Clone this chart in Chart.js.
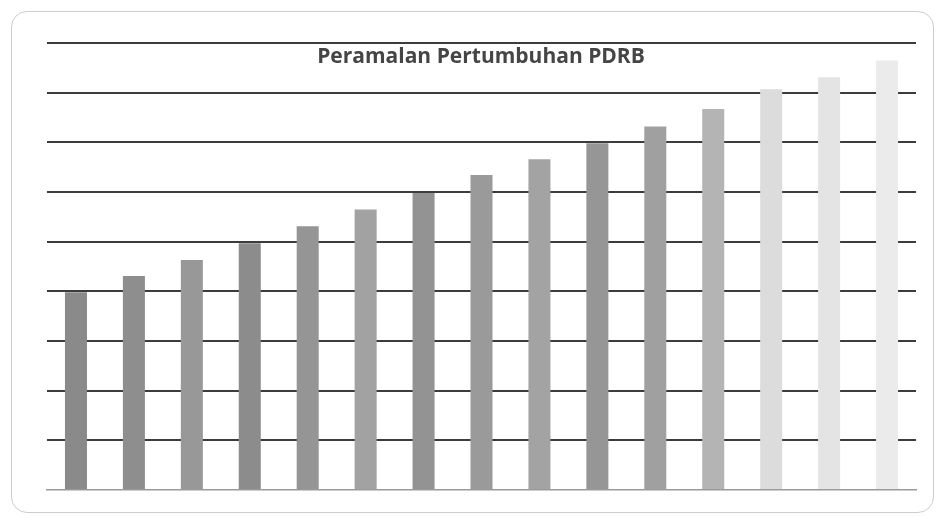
<!DOCTYPE html>
<html>
<head>
<meta charset="utf-8">
<script src="https://cdn.jsdelivr.net/npm/chart.js@4"></script>
<style>
  html, body { margin: 0; padding: 0; background: #ffffff; }
  .wrap { position: relative; width: 939px; height: 518px; }
  .frame {
    position: absolute; left: 11px; top: 11px; width: 923px; height: 502px;
    border: 1.5px solid #cdcdcd; border-radius: 16px; box-sizing: border-box;
  }
  canvas { position: absolute; left: 0; top: 0; }
</style>
</head>
<body>
<div class="wrap">
  <div class="frame"></div>
  <canvas id="pdrb-chart" width="939" height="518"></canvas>
</div>
<script>
const chartTitle = "Peramalan Pertumbuhan PDRB";
const periods = ["1", "2", "3", "4", "5", "6", "7", "8", "9", "10", "11", "12", "13", "14", "15"];
const pdrbValues = [3.98, 4.31, 4.63, 4.97, 5.31, 5.65, 5.98, 6.34, 6.66, 6.98, 7.32, 7.67, 8.07, 8.31, 8.65];
const barColors = [
  "#8a8a8a", "#8e8e8e", "#989898", "#8c8c8c", "#959595",
  "#a2a2a2", "#939393", "#9a9a9a", "#a3a3a3", "#969696",
  "#a0a0a0", "#b4b4b4", "#dcdcdc", "#e4e4e4", "#ebebeb",
];
const yMax = 9;

// title sits inside the plot area in the original, so draw it after the bars
const titleInPlot = {
  id: "titleInPlot",
  afterDraw(chart) {
    const { ctx, chartArea } = chart;
    ctx.save();
    ctx.font = "bold 21px 'Open Sans', sans-serif";
    ctx.fillStyle = "#454545";
    ctx.textAlign = "center";
    ctx.textBaseline = "alphabetic";
    ctx.fillText(chartTitle, 481, chartArea.top + 20);
    ctx.restore();
  },
};

new Chart(document.getElementById("pdrb-chart"), {
  type: "bar",
  data: {
    labels: periods,
    datasets: [
      {
        label: chartTitle,
        data: pdrbValues,
        backgroundColor: barColors,
        borderWidth: 0,
        barPercentage: 0.76,
        categoryPercentage: 0.5,
      },
    ],
  },
  options: {
    responsive: false,
    animation: false,
    layout: { padding: { left: 47, right: 23, top: 43, bottom: 28 } },
    plugins: {
      legend: { display: false },
      title: { display: false },
      tooltip: { enabled: false },
    },
    scales: {
      x: {
        ticks: { display: false },
        grid: { display: false, drawTicks: false },
        border: { display: true, color: "#9a9a9a", width: 1.5 },
      },
      y: {
        min: 0,
        max: yMax,
        ticks: { display: false, stepSize: 1 },
        grid: {
          drawTicks: false,
          color: (c) => (c.tick && c.tick.value === 0 ? "rgba(0,0,0,0)" : "#3c3c3c"),
          lineWidth: 2,
        },
        border: { display: false },
      },
    },
  },
  plugins: [titleInPlot],
});
</script>
</body>
</html>
